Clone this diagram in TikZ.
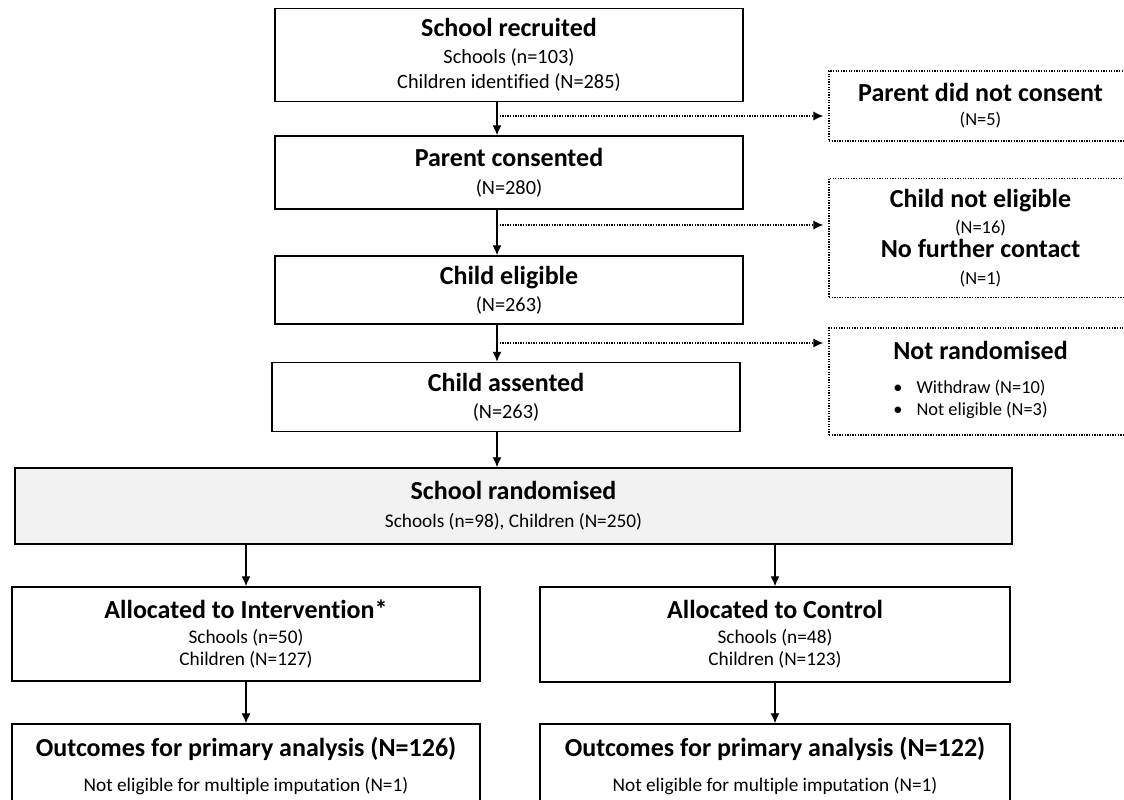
\documentclass[tikz,border=0pt]{standalone}
\usepackage{fontspec}
\setmainfont{Carlito}[Ligatures={NoCommon,NoContextual}, Contextuals=NoAlternate]
\usetikzlibrary{arrows.meta}
\definecolor{randgrey}{HTML}{F2F2F2}
\newcommand{\boxtitle}[1]{{\fontsize{26}{26}\selectfont\bfseries #1}}
\newcommand{\sidenote}[1]{{\fontsize{18.4}{22}\selectfont #1}}

\begin{document}
\begin{tikzpicture}[x=1pt, y=-1pt, font=\fontsize{19.3}{24}\selectfont,
  mainbox/.style={draw, line width=1.5pt, align=center, inner sep=0pt, minimum width=468pt},
  topbox/.style={mainbox, font=\fontsize{20.3}{25}\selectfont},
  sidebox/.style={draw, line width=1.2pt, dash pattern=on 1.3pt off 1.3pt, align=center, inner sep=0pt, minimum width=303pt},
  arr/.style={-{Latex[length=10pt, width=9pt]}, line width=1.3pt},
  dotarr/.style={arr, dash pattern=on 1.3pt off 1.3pt, shorten >=5pt}]
\useasboundingbox (0,0) rectangle (1124,800);

\node [topbox, minimum height=93pt] (rec) at (509,55) {\boxtitle{School recruited}\\[2pt] Schools (n=103)\\ Children identified (N=285)};
\node [topbox, minimum height=73pt] (cons) at (509,172.5) {\boxtitle{Parent consented}\\[3pt] (N=280)};
\node [topbox, minimum height=68pt] (elig) at (509,290) {\boxtitle{Child eligible}\\[2pt] (N=263)};
\node [topbox, minimum height=69pt] (asnt) at (506,397) {\boxtitle{Child assented}\\[2pt] (N=263)};
\node [mainbox, fill=randgrey, minimum width=997pt, minimum height=76pt] (rand) at (513.5,506) {\boxtitle{School randomised}\\[4pt] Schools (n=98), Children (N=250)};
\node [mainbox, minimum height=94pt] (intv) at (246,634) {\boxtitle{Allocated to Intervention*}\\[1pt] Schools (n=50)\\[-2pt] Children (N=127)};
\node [mainbox, minimum width=470pt, minimum height=95pt] (ctrl) at (775,634.5) {\boxtitle{Allocated to Control}\\[1pt] Schools (n=48)\\[-2pt] Children (N=123)};
\node [mainbox, minimum height=84pt] (outl) at (246,766) {\boxtitle{Outcomes for primary analysis (N=126)}\\[11pt] Not eligible for multiple imputation (N=1)};
\node [mainbox, minimum width=470pt, minimum height=84pt] (outr) at (775,766) {\boxtitle{Outcomes for primary analysis (N=122)}\\[11pt] Not eligible for multiple imputation (N=1)};

\node [sidebox, minimum height=70pt] (pnc) at (980.5,106) {\boxtitle{Parent did not consent}\\ \sidenote{(N=5)}};
\node [sidebox, minimum height=119pt] (cne) at (980.5,238) {\boxtitle{Child not eligible}\\[2pt] \sidenote{(N=16)}\\ \boxtitle{No further contact}\\[3pt] \sidenote{(N=1)}};
\node [sidebox, minimum height=107pt] (nrd) at (980.5,381.5) {\boxtitle{Not randomised}\\[17pt] \hspace*{-20pt}\sidenote{\begin{tabular}{@{}l@{\hspace{14pt}}l@{}}•&Withdraw (N=10)\\ •&Not eligible (N=3)\end{tabular}}};

\coordinate (spine) at (497,0);
\coordinate (b1) at (497,116);
\coordinate (b2) at (497,225);
\coordinate (b3) at (497,343);

\draw[arr] (spine |- rec.south) -- (spine |- cons.north);
\draw[arr] (spine |- cons.south) -- (spine |- elig.north);
\draw[arr] (spine |- elig.south) -- (spine |- asnt.north);
\draw[arr] (spine |- asnt.south) -- (spine |- rand.north);
\draw[dotarr] (b1) -- (b1 -| pnc.west);
\draw[dotarr] (b2) -- (b2 -| cne.west);
\draw[dotarr] (b3) -- (b3 -| nrd.west);
\draw[arr] (intv.north |- rand.south) -- (intv.north);
\draw[arr] (ctrl.north |- rand.south) -- (ctrl.north);
\draw[arr] (intv.south) -- (outl.north);
\draw[arr] (ctrl.south) -- (outr.north);
\end{tikzpicture}
\end{document}
